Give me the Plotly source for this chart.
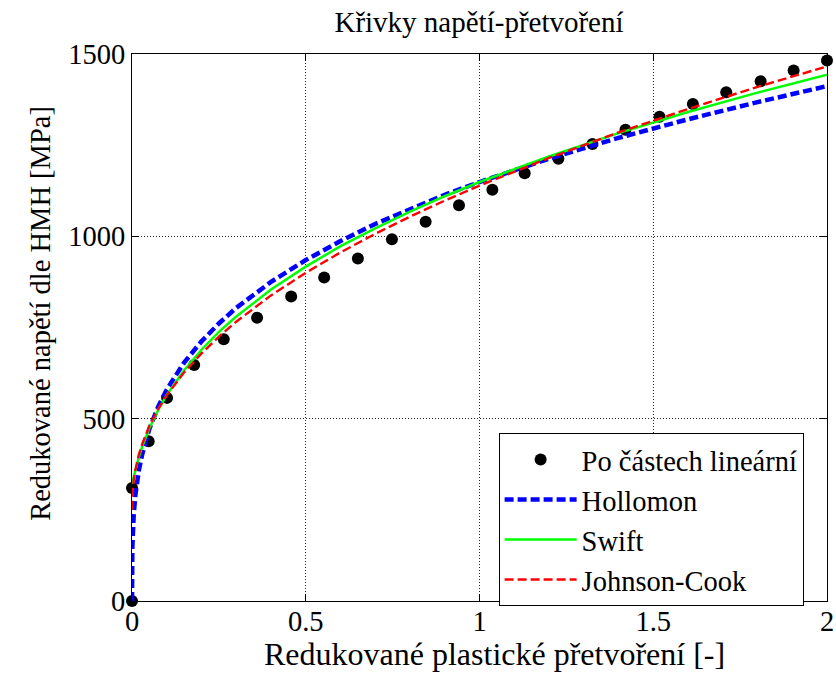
import plotly.graph_objects as go

# Measured points (piecewise linear)
pts_strain = [0.0, 0.0, 0.048, 0.101, 0.179, 0.264, 0.360, 0.458, 0.553, 0.650, 0.748,
              0.845, 0.941, 1.037, 1.130, 1.227, 1.325, 1.420, 1.518, 1.614, 1.710,
              1.809, 1.904, 2.0]
pts_stress = [0, 310, 438, 557, 647, 718, 777, 835, 887, 939, 992,
              1040, 1085, 1128, 1173, 1213, 1253, 1292, 1328, 1363, 1395,
              1425, 1455, 1482]

# Fitted curves sampled at these strains
curve_strain = [0, 0.001, 0.005, 0.01, 0.02, 0.03, 0.05, 0.075, 0.1, 0.15, 0.2, 0.25,
                0.3, 0.4, 0.5, 0.6, 0.7, 0.8, 0.9, 1.0, 1.2, 1.4, 1.6, 1.8, 2.0]
hollomon = [0, 148, 238, 293, 360, 405, 472, 532, 580, 654, 712, 761,
            804, 875, 935, 987, 1034, 1075, 1114, 1149, 1213, 1270, 1321, 1368, 1412]
swift = [321, 325, 343, 363, 396, 425, 474, 523, 565, 633, 689, 738,
         780, 854, 917, 973, 1022, 1068, 1110, 1149, 1219, 1283, 1341, 1394, 1443]
johnson_cook = [250, 289, 331, 361, 402, 432, 480, 526, 564, 627, 679, 725,
                766, 838, 900, 956, 1007, 1054, 1098, 1139, 1215, 1285, 1349, 1410, 1466]

x_ticks = [0, 0.5, 1, 1.5, 2]
x_tick_labels = ["0", "0.5", "1", "1.5", "2"]
y_ticks = [0, 500, 1000, 1500]
y_tick_labels = ["0", "500", "1000", "1500"]

title_text = "Křivky napětí-přetvoření"
x_title = "Redukované plastické přetvoření [-]"
y_title = "Redukované napětí dle HMH [MPa]"

FONT = "Liberation Serif"

fig = go.Figure()
fig.add_trace(go.Scatter(x=pts_strain, y=pts_stress, mode="markers",
                         name="Po částech lineární",
                         marker=dict(color="black", size=12), cliponaxis=False))
fig.add_trace(go.Scatter(x=curve_strain, y=hollomon, mode="lines", name="Hollomon",
                         line=dict(color="#0000ff", width=4.5, dash="9px,4px"), cliponaxis=False))
fig.add_trace(go.Scatter(x=curve_strain, y=swift, mode="lines", name="Swift",
                         line=dict(color="#00ff00", width=2.5), cliponaxis=False))
fig.add_trace(go.Scatter(x=curve_strain, y=johnson_cook, mode="lines", name="Johnson-Cook",
                         line=dict(color="#ff0000", width=2.4, dash="9px,4px"), cliponaxis=False))

axis_common = dict(showline=True, linecolor="black", linewidth=1, mirror="ticks",
                   ticks="inside", ticklen=7, tickcolor="black", tickwidth=1,
                   showgrid=True, gridcolor="#222222", griddash="1px,2px", gridwidth=1,
                   zeroline=False, tickfont=dict(family=FONT, size=28.5, color="black"))

fig.update_layout(
    width=836, height=674,
    font=dict(family=FONT, color="black"),
    paper_bgcolor="white", plot_bgcolor="white",
    margin=dict(l=132, r=9, t=54, b=73, autoexpand=False),
    title=dict(text=title_text, x=479 / 836, xanchor="center",
               y=1 - 22 / 674, yanchor="middle",
               font=dict(family=FONT, size=29, color="black")),
    xaxis=dict(range=[0, 2], tickvals=x_ticks, ticktext=x_tick_labels,
               ticklabelstandoff=-5, **axis_common),
    yaxis=dict(range=[0, 1500], tickvals=y_ticks, ticktext=y_tick_labels,
               ticklabelstandoff=0, **axis_common),
    legend=dict(x=0.5275, y=0.3064, xanchor="left", yanchor="top",
                bgcolor="white", bordercolor="black", borderwidth=1,
                font=dict(family=FONT, size=28.5, color="black"),
                itemwidth=72),
    showlegend=True,
    annotations=[
        dict(text=x_title, xref="paper", yref="paper", x=(494 - 132) / 695, y=-0.0975,
             xanchor="center", yanchor="middle", showarrow=False,
             font=dict(family=FONT, size=32, color="black")),
        dict(text=y_title, xref="paper", yref="paper", x=-0.1312, y=(600.7 - 313) / 546.4,
             xanchor="center", yanchor="middle", showarrow=False, textangle=-90,
             font=dict(family=FONT, size=28.5, color="black")),
    ],
)

fig.write_html("out.html", config={"displayModeBar": False},
               post_script="document.body.style.margin='0';document.body.style.overflow='hidden';")
